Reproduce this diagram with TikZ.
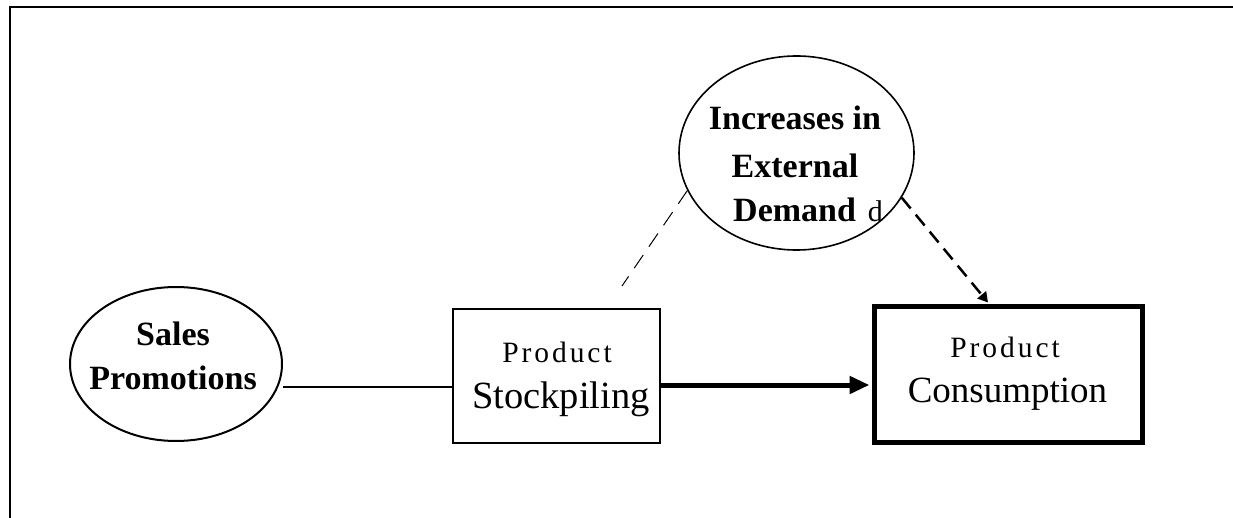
\documentclass[tikz,border=0pt]{standalone}
\usepackage{fontspec}
\setmainfont{Liberation Serif}
\newfontfamily\spacedserif[LetterSpace=10]{Liberation Serif}
\usetikzlibrary{shapes.geometric,arrows.meta}
\begin{document}
\begin{tikzpicture}[x=1pt,y=-1pt,
  oval/.style={ellipse,draw,inner sep=0pt},
  boxnode/.style={rectangle,draw,inner sep=0pt},
  boldtxt/.style={font=\fontsize{34}{40}\selectfont\bfseries,inner sep=0pt,anchor=base},
  smalltxt/.style={font=\spacedserif\fontsize{29.5}{36}\selectfont,inner sep=0pt,anchor=base},
  bigtxt/.style={font=\fontsize{37}{44}\selectfont,inner sep=0pt,anchor=base},
  frameline/.style={line width=2.5pt},
  plainlink/.style={line width=2pt},
  thicklink/.style={line width=5pt,-{Triangle[length=20pt,width=17pt]}},
  thindash/.style={line width=1pt,dash pattern=on 16pt off 10pt},
  thickdash/.style={line width=2.5pt,dash pattern=on 14pt off 8pt,-{Triangle[length=10pt,width=11pt]}},
]
\useasboundingbox (0,0) rectangle (1233,518);

% frame
\coordinate (fb) at (10,518);
\coordinate (ftl) at (10,7);
\coordinate (fr) at (1233,7);
\draw[frameline] (fb) -- (ftl) -- (fr);

% shapes
\node[oval,line width=2pt,minimum width=212pt,minimum height=154pt] (sp) at (176,364) {};
\node[oval,line width=1.6pt,minimum width=235pt,minimum height=194pt] (inc) at (796.5,153) {};
\node[boxnode,line width=2.2pt,minimum width=207pt,minimum height=134pt] (stock) at (556.5,376) {};
\node[boxnode,line width=5pt,minimum width=268pt,minimum height=135pt] (cons) at (1008,374.5) {};

% texts
\node[boldtxt] (sp1) at (173,345) {Sales};
\node[boldtxt] (sp2) at (173,389) {Promotions};
\node[boldtxt] (inc1) at (795,130) {Increases in};
\node[boldtxt] (inc2) at (795,178) {External};
\node[boldtxt,anchor=base west] (inc3) at (733,222) {Demand\hspace{12pt}{\mdseries\fontsize{30}{36}\selectfont d}};
\node[smalltxt] (st1) at (557,362) {Product};
\node[font=\fontsize{38.5}{46}\selectfont,inner sep=0pt,anchor=base] (st2) at (561,408) {Stockpiling};
\node[smalltxt] (co1) at (1005,357) {Product};
\node[bigtxt] (co2) at (1007.5,402) {Consumption};

% connectors
\draw[plainlink] ([yshift=-23pt]sp.east) -- ([yshift=-11pt]stock.west);
\draw[thicklink] ([yshift=-9pt]stock.east) -- ([yshift=-10.5pt,xshift=-2pt]cons.west);
\coordinate (dl) at (622,286);
\draw[thindash] (inc.199) -- (dl);
\draw[thickdash] (inc.337) -- ([xshift=-20pt,yshift=2pt]cons.north);
\end{tikzpicture}
\end{document}
